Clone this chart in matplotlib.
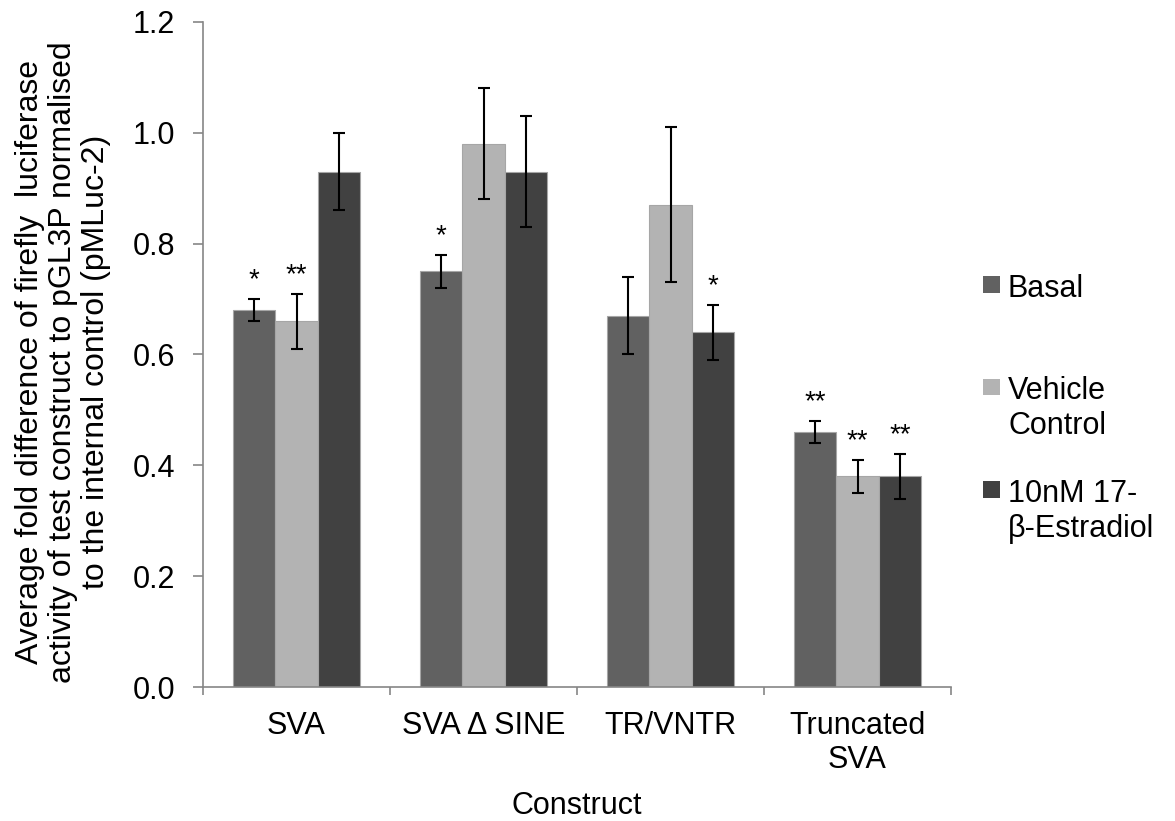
import numpy as np
import matplotlib
matplotlib.use("Agg")
import matplotlib.pyplot as plt
from matplotlib.patches import Rectangle
from matplotlib.ticker import FormatStrFormatter, FixedLocator

plt.rcParams['font.family'] = ['Liberation Sans', 'DejaVu Sans']

# donnees
constructs = ["SVA", "SVA\u2009\u0394 SINE", "TR/VNTR", "Truncated\nSVA"]
groups = ["Basal", "Vehicle\nControl", "10nM 17-\n\u03b2-Estradiol"]
colors = ["#616161", "#b3b3b3", "#414141"]

basal = [0.68, 0.75, 0.67, 0.46]
vehicle = [0.66, 0.98, 0.87, 0.38]
estradiol = [0.93, 0.93, 0.64, 0.38]

basal_err = [0.02, 0.03, 0.07, 0.02]
vehicle_err = [0.05, 0.10, 0.14, 0.03]
estradiol_err = [0.07, 0.10, 0.05, 0.04]

basal_sig = ["*", "*", "", "**"]
vehicle_sig = ["**", "", "", "**"]
estradiol_sig = ["", "", "*", "**"]

values = [basal, vehicle, estradiol]
errors = [basal_err, vehicle_err, estradiol_err]
signif = [basal_sig, vehicle_sig, estradiol_sig]

fig = plt.figure(figsize=(11.75, 8.21), dpi=100)
ax = fig.add_axes([203 / 1175, 1 - 687 / 821, 748 / 1175, 665 / 821])

x = np.arange(len(constructs))
w = 0.227
for i in range(3):
    pos = x + (i - 1) * w
    ax.bar(pos, values[i], width=w, color=colors[i], edgecolor="#a6a6a6",
           linewidth=0.8, zorder=2)
    ax.errorbar(pos, values[i], yerr=errors[i], fmt="none", ecolor="black",
                elinewidth=1.5, capsize=4.5, capthick=1.5, zorder=3)
    for p, v, e, s in zip(pos, values[i], errors[i], signif[i]):
        if s:
            ax.annotate(s, (p, v + e), xytext=(0, 4), textcoords="offset points",
                        ha="center", va="bottom", fontsize=20)

# axes
ax.set_xlim(-0.5, len(constructs) - 0.5)
ax.set_ylim(0, 1.2)
ax.set_yticks(np.arange(0, 1.21, 0.2))
ax.yaxis.set_major_formatter(FormatStrFormatter('%.1f'))
ax.set_xticks(x)
ax.set_xticklabels(constructs)
ax.xaxis.set_minor_locator(FixedLocator(np.arange(-0.5, len(constructs), 1.0)))
ax.tick_params(axis="x", which="major", length=0, pad=17, labelsize=22)
ax.tick_params(axis="x", which="minor", length=6, width=1.2, color="#868686")
ax.tick_params(axis="y", length=7, width=1.2, color="#868686", pad=13, labelsize=22)

for s in ["top", "right"]:
    ax.spines[s].set_visible(False)
for s in ["left", "bottom"]:
    ax.spines[s].set_color("#868686")
    ax.spines[s].set_linewidth(1.2)

ax.set_ylabel("Average fold difference of firefly  luciferase\n"
              "activity of test construct to pGL3P normalised\n"
              "to the internal control (pMLuc-2)",
              fontsize=23, va="center", linespacing=1.12)
ax.yaxis.set_label_coords(-0.187, 0.489)
ax.set_xlabel("Construct", fontsize=22, va="center")
ax.xaxis.set_label_coords(0.5, -0.179)

# legende faite a la main (carres alignes sur la premiere ligne)
first_line_y = [285, 387, 490]
for lab, col, yc in zip(groups, colors, first_line_y):
    fig.patches.append(Rectangle((983 / 1175, 1 - (yc + 8.5) / 821), 17 / 1175, 17 / 821,
                                 transform=fig.transFigure, facecolor=col,
                                 edgecolor="none"))
    fig.text(1008 / 1175, 1 - (yc - 11) / 821, lab, fontsize=22, ha="left",
             va="top", linespacing=1.2)

fig.savefig("out.png", dpi=100)
